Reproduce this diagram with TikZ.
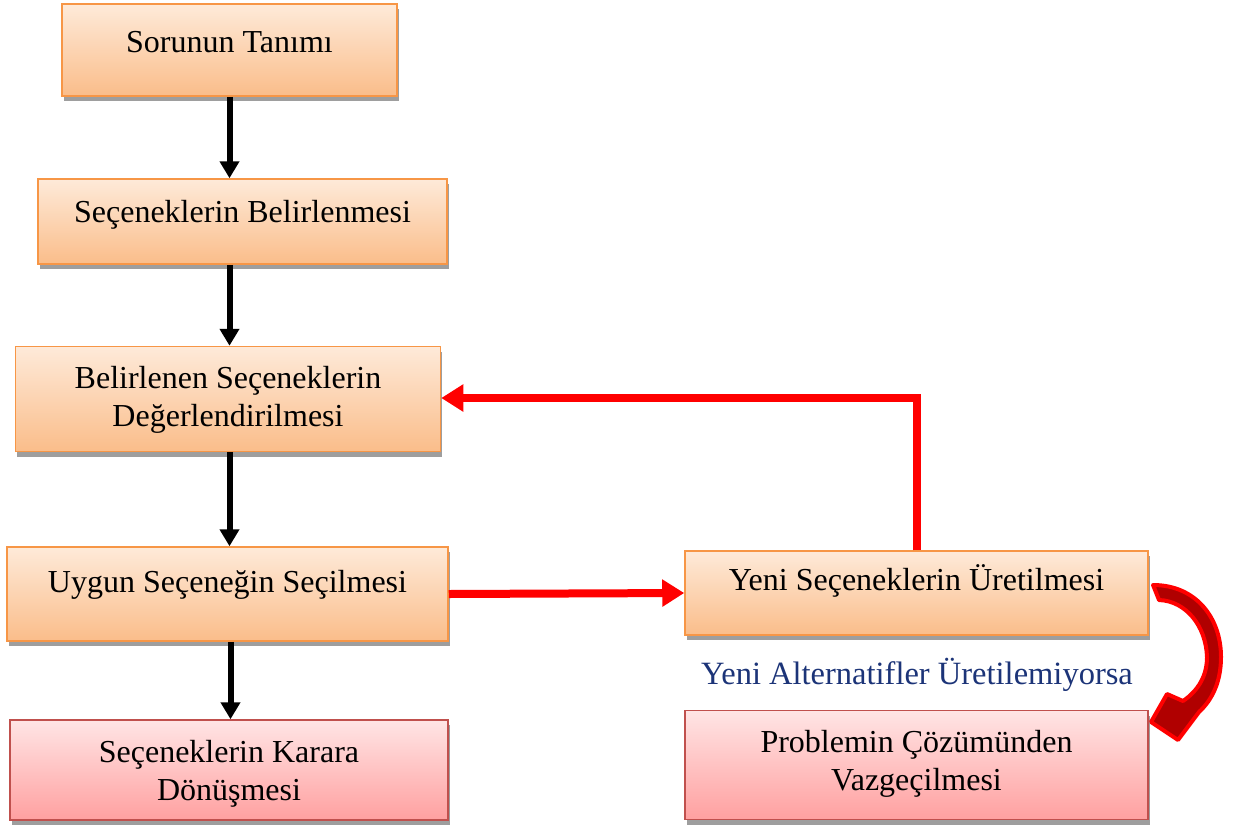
\documentclass[tikz,border=0pt]{standalone}
\usepackage{fontspec}
\setmainfont{Liberation Serif}
\usetikzlibrary{arrows.meta,shadows}
\definecolor{otop}{RGB}{254,234,217}
\definecolor{obot}{RGB}{250,189,138}
\definecolor{oborder}{RGB}{247,150,70}
\definecolor{ptop}{RGB}{255,229,229}
\definecolor{pbot}{RGB}{255,160,160}
\definecolor{pborder}{RGB}{192,80,77}
\definecolor{lblue}{RGB}{28,52,120}
\definecolor{dred}{RGB}{176,0,0}
\newcommand\oneline[2]{\rule{0pt}{22pt}\rule[-#2pt]{0pt}{0pt}\smash{#1}}
\newcommand\twolines[3]{\rule{0pt}{22pt}\smash{#1}\\\smash{#2}\rule[-#3pt]{0pt}{0pt}}
\tikzset{
  basebox/.style={rectangle, inner sep=0pt, align=center, line width=1.5pt,
    font=\fontsize{32}{38}\selectfont,
    drop shadow={shadow xshift=1.5pt, shadow yshift=-5pt, fill=black!38, opacity=1}},
  obox/.style={basebox, draw=oborder, top color=otop, bottom color=obot},
  pbox/.style={basebox, draw=pborder, top color=ptop, bottom color=pbot},
  blackarrow/.style={line width=6pt, -{Triangle[length=17pt,width=19pt]}},
  redarrow/.style={draw=red, line width=8pt, -{Triangle[length=22pt,width=26pt]}},
}
\begin{document}
\begin{tikzpicture}[x=1pt,y=-1pt]
\useasboundingbox (0,0) rectangle (1234,825);
\fill[white] (0,0) rectangle (1234,825);

\node[obox, minimum width=335pt, minimum height=92pt] (b1) at (229.5,50)
  {\oneline{Sorunun Tanımı}{18}};
\node[obox, minimum width=409pt, minimum height=85pt] (b2) at (242.5,221.5)
  {\oneline{Seçeneklerin Belirlenmesi}{21}};
\node[obox, minimum width=425pt, minimum height=105pt] (b3) at (228,399)
  {\twolines{Belirlenen Seçeneklerin}{Değerlendirilmesi}{6}};
\node[obox, minimum width=441pt, minimum height=94pt] (b4) at (227.5,594)
  {\oneline{Uygun Seçeneğin Seçilmesi}{26}};
\node[pbox, minimum width=438pt, minimum height=100pt] (b5) at (229,770)
  {\twolines{Seçeneklerin Karara}{Dönüşmesi}{0}};
\node[obox, minimum width=463pt, minimum height=84pt] (b6) at (916.5,593)
  {\oneline{Yeni Seçeneklerin Üretilmesi}{28}};
\node[pbox, minimum width=463pt, minimum height=109pt] (b7) at (916.5,765)
  {\twolines{Problemin Çözümünden}{Vazgeçilmesi}{10}};

\node[anchor=base, text=lblue, font=\fontsize{32.5}{38}\selectfont] (lbl) at (917,684)
  {Yeni Alternatifler Üretilemiyorsa};

% black arrows
\draw[blackarrow] (b1.south) -- (b1.south |- b2.north);
\draw[blackarrow] (b2.south -| b1.south) -- (b3.north -| b1.south);
\draw[blackarrow] (b3.south -| b1.south) -- (b4.north -| b1.south);
\draw[blackarrow] ([xshift=1pt]b4.south -| b1.south) -- ([xshift=1pt]b5.north -| b1.south);

% red arrows
\draw[redarrow] (b4.east) -- (b6.west);
\coordinate (corner) at (917,398);
\draw[redarrow] (b6.north -| corner) -- (corner) -- (corner -| b3.east);

% curved 3D arrow
\filldraw[draw=red, fill=dred, line width=4pt, line join=round]
  (1153,585) .. controls (1196,585) and (1221,618) .. (1221,657)
  .. controls (1221,682) and (1212,700) .. (1199,712)
  -- (1178,740) -- (1151,722) -- (1167,694) -- (1183,701)
  .. controls (1199,690) and (1207,675) .. (1207,657)
  .. controls (1206,626) and (1186,601) .. (1159,600) -- cycle;
\end{tikzpicture}
\end{document}
